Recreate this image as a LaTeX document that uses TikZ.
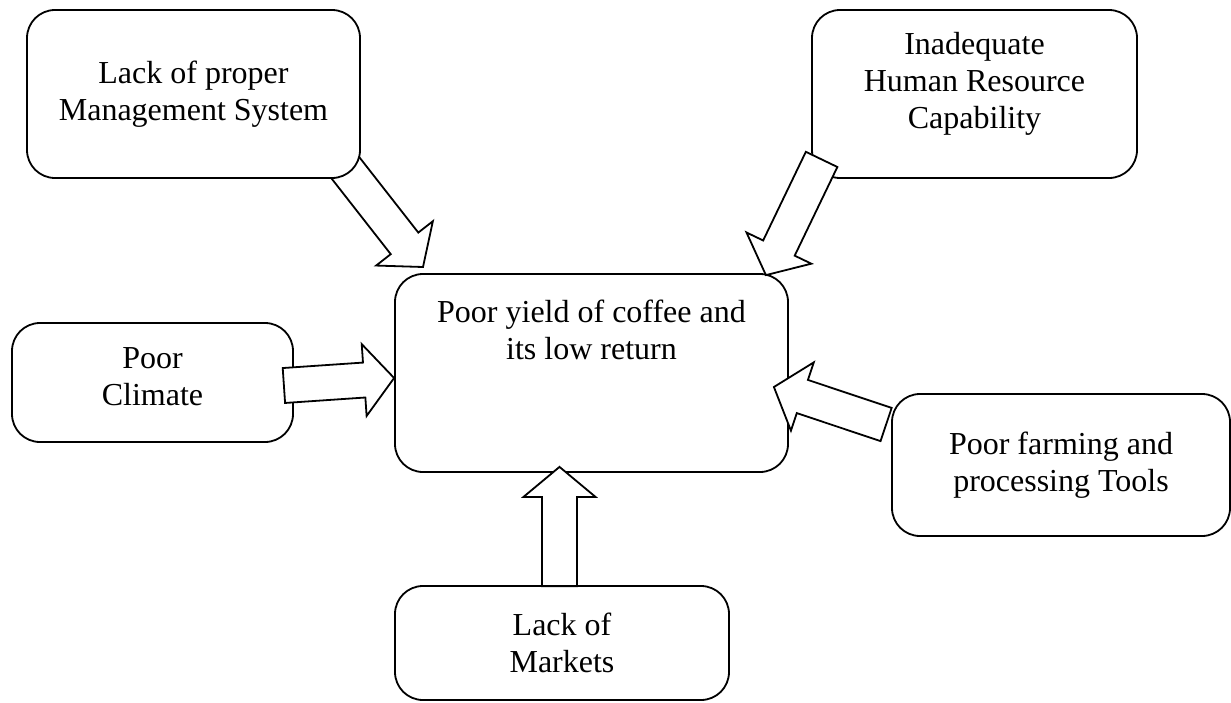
\documentclass[tikz,border=0pt]{standalone}
\usepackage{fontspec}
\setmainfont{Liberation Serif}
\usetikzlibrary{calc}
\tikzset{
  box/.style={draw, fill=white, rounded corners=14pt, line width=0.9pt, align=center, inner sep=0pt, font=\fontsize{16}{18.5}\selectfont},
  lbl/.style={align=center, inner sep=0pt, font=\fontsize{16}{18.5}\selectfont},
  blk/.style={draw, fill=white, line width=0.9pt, line join=miter},
}
% block arrow from coordinate #1 (tail centre) to coordinate #2 (tip)
\newcommand\blockarrow[2]{%
  \coordinate (#1-h) at ($(#2)!15pt!(#1)$);
  \filldraw[blk] ($(#1)!8.75pt!90:(#2)$) -- ($(#1-h)!8.75pt!-90:(#1)$) -- ($(#1-h)!18pt!-90:(#1)$) -- (#2)
     -- ($(#1-h)!18pt!90:(#1)$) -- ($(#1-h)!8.75pt!90:(#1)$) -- ($(#1)!8.75pt!-90:(#2)$) -- cycle;}
\begin{document}
\begin{tikzpicture}[x=0.5pt,y=-0.5pt]
\useasboundingbox (0,0) rectangle (1231,702);

% arrow 1 lies behind the top-left box
\path (193.5,94) coordinate (tlc) (591.5,373) coordinate (ctc);
\coordinate (a1s) at ($(tlc)+(150.5,72)$);
\coordinate (a1e) at ($(ctc)+(-168.5,-106)$);
\blockarrow{a1s}{a1e}

\node[box, minimum width=166.5pt, minimum height=84pt] (tl) at (tlc) {Lack of proper\\Management System};
\node[box, minimum width=162.5pt, minimum height=84pt] (tr) at (974.5,94) {};
\node[lbl] (trt) at ($(tr.center)+(0,-10)$) {Inadequate\\Human Resource\\Capability};
\node[box, minimum width=140.5pt, minimum height=59.5pt] (lf) at (152.5,382.5) {};
\node[lbl] (lft) at ($(lf.center)+(0,-6)$) {Poor\\Climate};
\node[box, minimum width=196.5pt, minimum height=99pt] (ct) at (ctc) {};
\node[lbl, anchor=north] (ctt) at ($(ct.north)+(0,26)$) {Poor yield of coffee and\\its low return};
\node[box, minimum width=169pt, minimum height=71pt] (rt) at (1061,465) {Poor farming and\\processing Tools};
\node[box, minimum width=167pt, minimum height=57pt] (bt) at (562,643) {Lack of\\Markets};

% arrows drawn over the boxes
\coordinate (a2s) at ($(tr.south west)+(10.5,-19.5)$);
\coordinate (a2e) at ($(ct.north east)+(-23,2)$);
\blockarrow{a2s}{a2e}
\coordinate (a3s) at ($(lf.east)+(-10,3)$);
\coordinate (a3e) at ($(ct.west)+(0,5)$);
\blockarrow{a3s}{a3e}
\coordinate (a4s) at ($(rt.west)+(-5,-40.5)$);
\coordinate (a4e) at ($(ct.east)+(-15,14)$);
\blockarrow{a4s}{a4e}
\coordinate (a5s) at ($(bt.north)+(-2.5,1)$);
\coordinate (a5e) at ($(ct.south)+(-32,-6)$);
\blockarrow{a5s}{a5e}
\end{tikzpicture}
\end{document}
